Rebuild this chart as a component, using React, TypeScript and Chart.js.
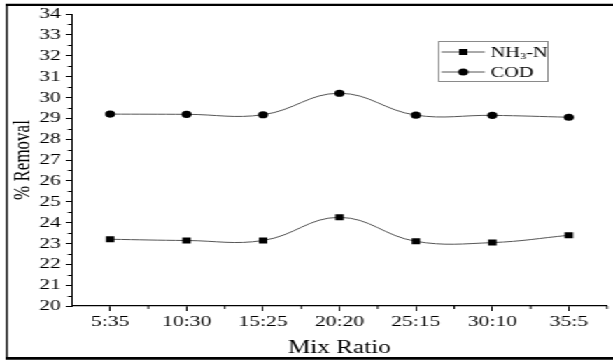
import React, { useEffect, useRef } from "react";
import { Chart, registerables } from "chart.js";

Chart.register(...registerables);

const categories = ["5:35", "10:30", "15:25", "20:20", "25:15", "30:10", "35:5"];
const nh3Values = [23.2, 23.14, 23.14, 24.25, 23.1, 23.04, 23.39];
const codValues = [29.2, 29.19, 29.17, 30.2, 29.15, 29.14, 29.05];
const seriesLabels = ["NH3-N", "COD"];
const yTickMin = 20;
const yTickMax = 34;
const xTitle = "Mix Ratio";
const yTitle = "% Removal";

const W = 438;
const H = 360;
const SX = 613 / W;
const FONT = "'Liberation Serif', 'Times New Roman', serif";

const extras = {
  id: "extras",
  afterDraw(chart: any) {
    const ctx = chart.ctx;
    const xs = chart.scales.x;
    const ys = chart.scales.y;
    ctx.save();
    ctx.strokeStyle = "#000";
    ctx.lineWidth = 1;
    // y minor ticks
    for (let v = yTickMin + 0.5; v < yTickMax; v += 1) {
      const py = Math.round(ys.getPixelForValue(v)) + 0.5;
      ctx.beginPath();
      ctx.moveTo(ys.right - 2.9, py);
      ctx.lineTo(ys.right, py);
      ctx.stroke();
    }
    // x minor ticks
    for (let i = 0; i <= categories.length; i++) {
      const px = xs.getPixelForValue(i - 0.5);
      if (px < xs.left + 2) continue;
      ctx.beginPath();
      ctx.moveTo(px, xs.top);
      ctx.lineTo(px, xs.top + 3);
      ctx.stroke();
    }
    // legend
    const bx = 313, by = 41, bw = 78, bh = 40;
    ctx.strokeStyle = "#8a8a8a";
    ctx.lineWidth = 1;
    ctx.strokeRect(bx + 0.5, by + 0.5, bw, bh);
    const rows = [52, 72];
    chart.data.datasets.forEach((ds: any, i: number) => {
      const ry = rows[i];
      ctx.strokeStyle = ds.borderColor;
      ctx.lineWidth = 1;
      ctx.beginPath();
      ctx.moveTo(315.5, ry);
      ctx.lineTo(346.4, ry);
      ctx.stroke();
      ctx.fillStyle = "#000";
      if (ds.pointStyle === "rect") {
        ctx.fillRect(331 - 3, ry - 3, 6, 6);
      } else {
        ctx.beginPath();
        ctx.arc(331, ry, 3.6, 0, Math.PI * 2);
        ctx.fill();
      }
      // label with subscript digits
      let tx = 350.5;
      const parts = String(ds.label).split(/(\d+)/);
      ctx.textBaseline = "middle";
      ctx.textAlign = "left";
      parts.forEach((p: string, k: number) => {
        if (!p) return;
        const sub = k % 2 === 1;
        ctx.font = (sub ? "9px " : "14.5px ") + FONT;
        ctx.fillText(p, tx, sub ? ry + 5 : ry + 1);
        tx += ctx.measureText(p).width;
      });
    });
    // frame
    ctx.strokeStyle = "#000";
    ctx.lineWidth = 1.4;
    ctx.beginPath();
    ctx.moveTo(4.9, 4);
    ctx.lineTo(4.9, 359);
    ctx.stroke();
    ctx.lineWidth = 2.2;
    ctx.beginPath();
    ctx.moveTo(4, 4.8);
    ctx.lineTo(W, 4.8);
    ctx.stroke();
    ctx.lineWidth = 2.6;
    ctx.beginPath();
    ctx.moveTo(4, 358.4);
    ctx.lineTo(W, 358.4);
    ctx.stroke();
    ctx.restore();
  },
};

export default function App() {
  const ref = useRef<HTMLCanvasElement | null>(null);
  useEffect(() => {
    if (!ref.current) return;
    const chart = new Chart(ref.current, {
      type: "line",
      data: {
        labels: categories,
        datasets: [
          {
            label: seriesLabels[0],
            data: nh3Values,
            borderColor: "#555",
            borderWidth: 1,
            pointStyle: "rect",
            pointRadius: 4.24,
            pointBackgroundColor: "#000",
            pointBorderColor: "#000",
            pointBorderWidth: 0,
            tension: 0.4,
          },
          {
            label: seriesLabels[1],
            data: codValues,
            borderColor: "#555",
            borderWidth: 1,
            pointStyle: "circle",
            pointRadius: 3.6,
            pointBackgroundColor: "#000",
            pointBorderColor: "#000",
            pointBorderWidth: 0,
            tension: 0.4,
          },
        ],
      },
      options: {
        responsive: false,
        animation: false,
        devicePixelRatio: 1,
        layout: { padding: { left: 0, right: 1, top: 14, bottom: 0 } },
        plugins: { legend: { display: false }, tooltip: { enabled: false } },
        scales: {
          x: {
            type: "category",
            offset: true,
            border: { display: true, color: "#000", width: 1.3 },
            grid: {
              display: true,
              drawOnChartArea: false,
              drawTicks: true,
              tickLength: 5,
              offset: false,
              color: "#000",
            },
            ticks: {
              color: "#000",
              font: { family: FONT, size: 15.5 },
              padding: 2,
              maxRotation: 0,
              autoSkip: false,
            },
            title: {
              display: true,
              text: xTitle,
              color: "#000",
              font: { family: FONT, size: 18 },
              padding: { top: 0, bottom: 1 },
            },
            afterFit: (s: any) => {
              s.height = 54;
            },
          },
          y: {
            min: yTickMin,
            max: yTickMax,
            border: { display: true, color: "#000", width: 1 },
            grid: {
              display: true,
              drawOnChartArea: false,
              drawTicks: true,
              tickLength: 4.3,
              color: "#000",
            },
            ticks: {
              stepSize: 1,
              autoSkip: false,
              color: "#000",
              font: { family: FONT, size: 15.5 },
              padding: 3.5,
            },
            title: {
              display: true,
              text: yTitle,
              color: "#000",
              font: { family: FONT, size: 17 },
              padding: { top: 6, bottom: 0 },
            },
            afterFit: (s: any) => {
              s.width = 51.4;
            },
          },
        },
      },
      plugins: [extras],
    });
    return () => chart.destroy();
  }, []);
  return (
    <div
      style={{
        position: "absolute",
        left: 0,
        top: 0,
        width: W,
        height: H,
        transform: `scaleX(${SX})`,
        transformOrigin: "0 0",
        background: "#fff",
      }}
    >
      <canvas ref={ref} width={W} height={H} />
    </div>
  );
}
